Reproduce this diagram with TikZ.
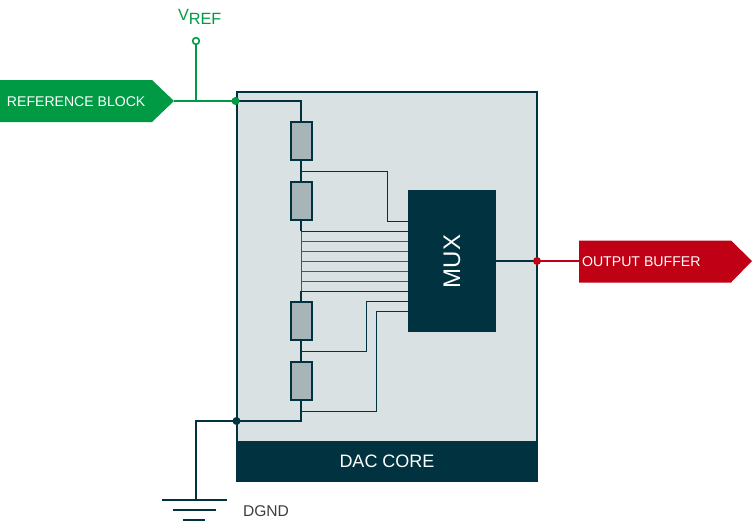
\documentclass[tikz,border=0pt]{standalone}
\usepackage{fontspec}
\setmainfont{Liberation Sans}
\usetikzlibrary{calc}
\definecolor{dk}{HTML}{00323F}
\definecolor{gn}{HTML}{009A44}
\definecolor{rd}{HTML}{C00014}
\definecolor{corebg}{HTML}{D9E1E2}
\definecolor{resbg}{HTML}{A7B5B8}
\definecolor{gndtext}{HTML}{3A3F42}
\tikzset{
  x=0.75pt,y=-0.75pt,
  wire/.style={draw=dk,line width=1.5pt},
  thin wire/.style={draw=dk,line width=0.75pt},
  tap/.style={draw=dk!75!corebg,line width=0.7pt},
  resistor/.style={draw=dk,fill=resbg,line width=1.5pt,minimum width=15.2pt,minimum height=28.5pt,inner sep=0pt,outer sep=0pt},
  block/.style={inner sep=0pt,outer sep=0pt,text=white},
  lbl/.style={inner sep=0pt,outer sep=0pt},
  dot/.style={circle,inner sep=0pt,minimum size=6pt},
}
\begin{document}
\begin{tikzpicture}
\useasboundingbox (0,0) rectangle (752,522);
% core
\node[draw=dk,fill=corebg,line width=1.5pt,inner sep=0pt,outer sep=0pt,minimum width=225pt,minimum height=262.5pt] (core) at (387,266.5) {};
\node[block,fill=dk,minimum width=226.5pt,minimum height=30.75pt,font=\fontsize{13.5pt}{15pt}\selectfont] (band) at (387,461) {DAC CORE};
\node[block,fill=dk,minimum width=66pt,minimum height=106.5pt] (mux) at (451.5,261) {};
\node[lbl,text=white,rotate=90,font=\fontsize{18pt}{20pt}\selectfont] (muxlabel) at (452,261.5) {MUX};
% named points
\coordinate (top) at (301,101);
\coordinate (cornertl) at (237,101);
\coordinate (a1) at (301,171.5);
\coordinate (a2) at (387.5,171.5);
\coordinate (a3) at (387.5,221.3);
\coordinate (m1) at (408,221.3);
\coordinate (s1) at (301,351.5);
\coordinate (s2) at (366,351.5);
\coordinate (s3) at (366,301.3);
\coordinate (m2) at (408,301.3);
\coordinate (q1) at (301,411.3);
\coordinate (q2) at (376.3,411.3);
\coordinate (q3) at (376.3,311.3);
\coordinate (m3) at (408,311.3);
\coordinate (bot) at (301,421);
\coordinate (gc) at (196,421);
\coordinate (g1) at (196,500);
% resistor chain
\node[resistor] (r1) at (301.5,141) {};
\node[resistor] (r2) at (301.5,201) {};
\node[resistor] (r3) at (301.5,321) {};
\node[resistor] (r4) at (301.5,381) {};
\draw[wire] (cornertl) -- (top) -- (r1.north -| top);
\draw[wire] (r1.south -| top) -- (r2.north -| top);
\draw[wire] (r2.south -| top) -- (301,231.3);
\draw[tap] (301,231.3) -- (301,291.3);
\draw[wire] (301,291.3) -- (r3.north -| top);
\draw[wire] (r3.south -| top) -- (r4.north -| top);
\draw[wire] (r4.south -| top) -- (bot) -- (gc) -- (g1);
% taps
\draw[thin wire] (a1) -- (a2) -- (a3) -- (m1);
\draw[thin wire] (301,231.3) -- (408,231.3);
\foreach \y in {241.3,251.3,261.3,271.3,281.3}{\draw[tap] (301,\y) -- (408,\y);}
\draw[thin wire] (301,291.3) -- (408,291.3);
\draw[thin wire] (s1) -- (s2) -- (s3) -- (m2);
\draw[thin wire] (q1) -- (q2) -- (q3) -- (m3);
% ground
\coordinate (ga) at (162,500); \coordinate (gb) at (226.5,500);
\coordinate (gd) at (173,510); \coordinate (ge) at (216,510);
\coordinate (gf) at (183,520); \coordinate (gg) at (205,520);
\draw[wire] (ga) -- (gb);
\draw[wire] (gd) -- (ge);
\draw[wire] (gf) -- (gg);
\node[dot,fill=dk] (gnddot) at (236.5,421) {};
\node[lbl,anchor=west,text=gndtext,font=\fontsize{11.7pt}{13pt}\selectfont] (dgnd) at (243,511) {DGND};
% reference block
\fill[gn] (0,80) -- (152,80) -- (174,101) -- (152,122) -- (0,122) -- cycle;
\node[lbl,anchor=west,text=white,font=\fontsize{10.55pt}{12pt}\selectfont] (ref) at (7,102) {REFERENCE BLOCK};
\coordinate (reftip) at (174,101);
\coordinate (vtee) at (196,101);
\node[circle,draw=gn,fill=white,line width=1.2pt,inner sep=0pt,minimum size=5pt] (vc) at (196,41) {};
\draw[gn,line width=1.3pt] (vc) -- (vtee);
\draw[gn,line width=1.6pt] (reftip) -- (cornertl);
\node[dot,fill=gn] (refdot) at (235.5,101) {};
\node[lbl,text=gn,anchor=base west,font=\fontsize{12.2pt}{15pt}\selectfont] (vref) at (178,20) {V\raisebox{-3pt}{REF}};
% output buffer
\draw[wire] (mux.east |- 0,261) -- (537,261);
\draw[rd,line width=1.3pt] (537,261) -- (579,261);
\node[dot,fill=rd] (outdot) at (537,261) {};
\fill[rd] (579,240.5) -- (731,240.5) -- (752,261) -- (731,282.5) -- (579,282.5) -- cycle;
\node[lbl,anchor=west,text=white,font=\fontsize{10.6pt}{12pt}\selectfont] (out) at (582,262) {OUTPUT BUFFER};
\end{tikzpicture}
\end{document}
